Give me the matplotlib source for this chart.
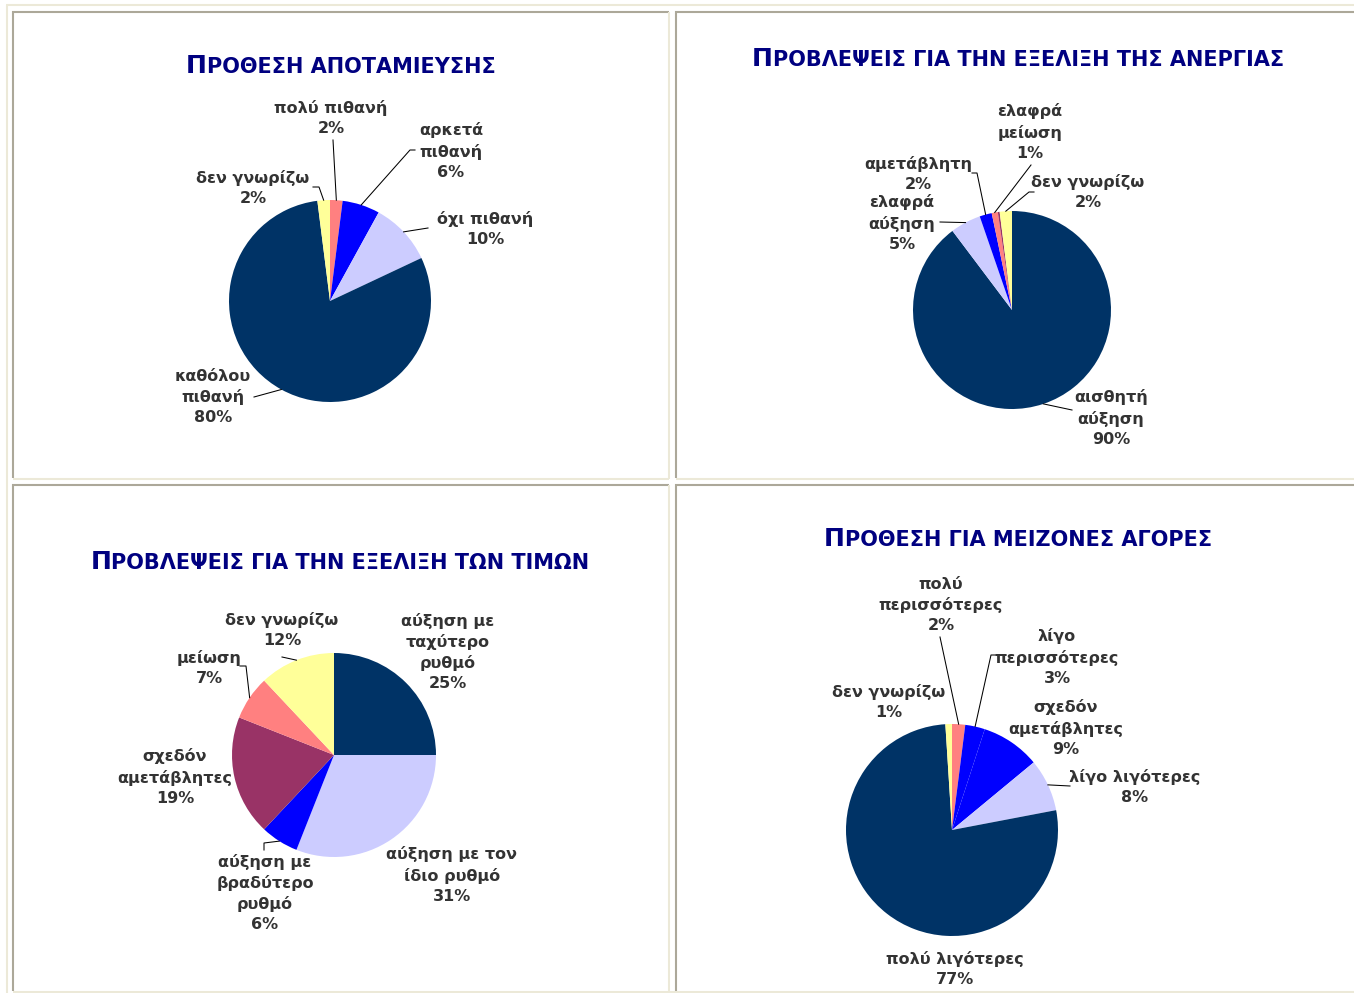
import numpy as np
import matplotlib.pyplot as plt

W, H = 1354, 993

NAVY = '#003366'
LAV = '#ccccff'
BLUE = '#0000ff'
MAROON = '#993366'
SALMON = '#ff8080'
YELLOW = '#ffff99'
TXT = '#333333'

# Πρόθεση αποταμίευσης
sav_labels = ['πολύ πιθανή', 'αρκετά\nπιθανή', 'όχι πιθανή', 'καθόλου\nπιθανή', 'δεν γνωρίζω']
sav_values = [2, 6, 10, 80, 2]
sav_colors = [SALMON, BLUE, LAV, NAVY, YELLOW]

# Προβλέψεις για την εξέλιξη της ανεργίας
une_labels = ['αισθητή\nαύξηση', 'ελαφρά\nαύξηση', 'αμετάβλητη', 'ελαφρά\nμείωση', 'αισθητή μείωση', 'δεν γνωρίζω']
une_values = [90, 5, 2, 1, 0.3, 2]
une_colors = [NAVY, LAV, BLUE, SALMON, MAROON, YELLOW]

# Προβλέψεις για την εξέλιξη των τιμών
pri_labels = ['αύξηση με\nταχύτερο\nρυθμό', 'αύξηση με τον\nίδιο ρυθμό', 'αύξηση με\nβραδύτερο\nρυθμό',
              'σχεδόν\nαμετάβλητες', 'μείωση', 'δεν γνωρίζω']
pri_values = [25, 31, 6, 19, 7, 12]
pri_colors = [NAVY, LAV, BLUE, MAROON, SALMON, YELLOW]

# Πρόθεση για μείζονες αγορές
pur_labels = ['πολύ\nπερισσότερες', 'λίγο\nπερισσότερες', 'σχεδόν\nαμετάβλητες', 'λίγο λιγότερες',
              'πολύ λιγότερες', 'δεν γνωρίζω']
pur_values = [2, 3, 9, 8, 77, 1]
pur_colors = [SALMON, BLUE, BLUE, LAV, NAVY, YELLOW]

fig = plt.figure(figsize=(W / 100, H / 100), dpi=100)
fig.patch.set_facecolor('white')
ax = fig.add_axes([0, 0, 1, 1])
rend = fig.canvas.get_renderer()


def draw_title(text, cx, y, big=18, small=15):
    t1 = ax.text(0, H - y, text[0], fontsize=big, fontweight='bold', color='#000080', va='baseline')
    t2 = ax.text(0, H - y, text[1:], fontsize=small, fontweight='bold', color='#000080', va='baseline')
    w1 = t1.get_window_extent(rend).width
    w2 = t2.get_window_extent(rend).width
    x0 = cx - (w1 + w2) / 2
    t1.set_x(x0)
    t2.set_x(x0 + w1)


def draw_pie(values, labels, colors, center, radius, label_pos, leaders):
    cx, cy = center
    wedges, _ = ax.pie(values, colors=colors, startangle=90, counterclock=False,
                       center=(cx, H - cy), radius=radius, frame=True,
                       wedgeprops=dict(linewidth=0))
    for w, lab, v, pos, lead in zip(wedges, labels, values, label_pos, leaders):
        if pos is None:
            continue
        ax.text(pos[0], H - pos[1], f'{lab}\n{v:.0f}%', ha='center', va='center',
                fontsize=11.5, fontweight='bold', color=TXT, linespacing=1.42)
        if lead:
            mid = np.deg2rad((w.theta1 + w.theta2) / 2)
            ex = cx + radius * np.cos(mid)
            ey = H - cy + radius * np.sin(mid)
            xs = [p[0] for p in lead] + [ex]
            ys = [H - p[1] for p in lead] + [ey]
            ax.plot(xs, ys, color='black', lw=0.75)


# chart 1
draw_title('ΠΡΟΘΕΣΗ ΑΠΟΤΑΜΙΕΥΣΗΣ', 341, 73)
draw_pie(sav_values, sav_labels, sav_colors, (330, 301), 101,
         [(331, 118), (451, 151), (485, 229), (213, 397), (253, 188)],
         [[(333, 140)], [(415, 150), (410, 150)], [(428, 228)], [(254, 397)], [(313, 187), (319, 187)]])

# chart 2
draw_title('ΠΡΟΒΛΕΨΕΙΣ ΓΙΑ ΤΗΝ ΕΞΕΛΙΞΗ ΤΗΣ ΑΝΕΡΓΙΑΣ', 1018, 66)
draw_pie(une_values, une_labels, une_colors, (1012, 310), 99,
         [(1111, 418), (902, 223), (918, 174), (1030, 132), None, (1088, 192)],
         [[(1072, 410)], [(940, 222)], [(972, 173), (977, 173)], [(1031, 165)], None, [(1034, 192), (1029, 192)]])

# chart 3
draw_title('ΠΡΟΒΛΕΨΕΙΣ ΓΙΑ ΤΗΝ ΕΞΕΛΙΞΗ ΤΩΝ ΤΙΜΩΝ', 340, 569)
draw_pie(pri_values, pri_labels, pri_colors, (334, 755), 102,
         [(448, 652), (452, 875), (265, 893), (175, 777), (209, 668), (282, 630)],
         [None, None, [(264, 850), (264, 843)], None, [(240, 666), (246, 666)], [(282, 657)]])

# chart 4
draw_title('ΠΡΟΘΕΣΗ ΓΙΑ ΜΕΙΖΟΝΕΣ ΑΓΟΡΕΣ', 1018, 546)
draw_pie(pur_values, pur_labels, pur_colors, (952, 830), 106,
         [(941, 605), (1057, 657), (1066, 728), (1135, 787), (955, 969), (889, 702)],
         [[(940, 637)], [(996, 655), (991, 655)], None, [(1070, 786)], None, None])

# panel frames (sunken look)
GREY = '#aca899'
BEIGE = '#ece9d8'
lw = 1.5
frame_lines = [
    (BEIGE, [6, W], [5, 5]), (BEIGE, [7, 7], [5, H]), (BEIGE, [13, W], [992, 992]),
    (GREY, [12, 669], [11.5, 11.5]), (GREY, [675, W], [11.5, 11.5]),
    (GREY, [12.5, 12.5], [11, 478]), (GREY, [675.5, 675.5], [11, 478]),
    (BEIGE, [13, 669], [478.5, 478.5]), (BEIGE, [676, W], [478.5, 478.5]),
    (BEIGE, [668.5, 668.5], [12, 479]),
    (GREY, [12, 669], [484.5, 484.5]), (GREY, [675, W], [484.5, 484.5]),
    (GREY, [12.5, 12.5], [484, 991]), (GREY, [675.5, 675.5], [484, 991]),
    (BEIGE, [668.5, 668.5], [485, 991]),
]
for c, xs, ys in frame_lines:
    ax.plot(xs, [H - y for y in ys], color=c, lw=lw, solid_capstyle='butt', clip_on=False)

ax.set_xlim(0, W)
ax.set_ylim(0, H)
ax.set_aspect('auto')
ax.axis('off')

fig.savefig('out.png', dpi=100)
